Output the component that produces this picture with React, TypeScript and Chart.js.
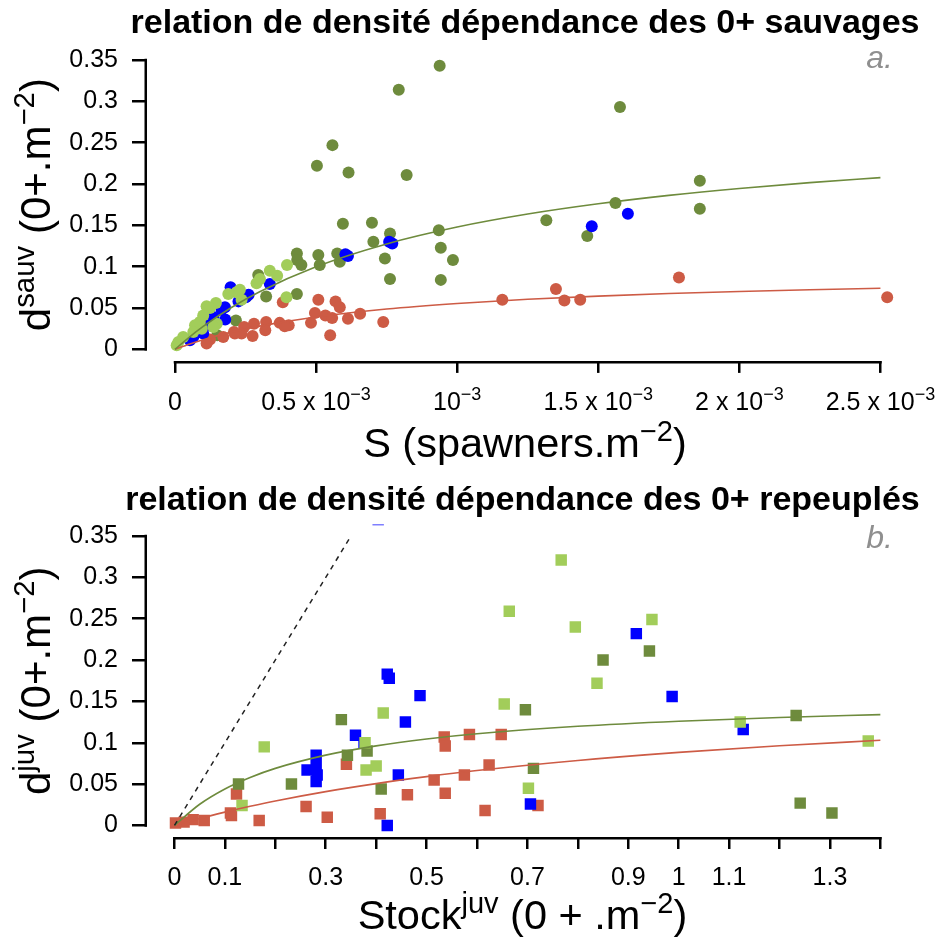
import React, { useEffect, useRef } from 'react';
import { Chart, registerables } from 'chart.js';

Chart.register(...registerables);

const FONT = "'Liberation Sans', Arial, Helvetica, sans-serif";
const C_DARK = '#6E8B3D';
const C_LIGHT = '#A2CD5A';
const C_BLUE = '#0000FF';
const C_RED = '#CD5B45';

// ---------- Panel a : wild 0+ (S in units of 1e-3 spawners.m-2) ----------
const aDarkX = [0.938, 0.793, 0.558, 0.503, 0.615, 0.821, 0.595, 0.698, 0.762, 0.935, 0.703, 1.316, 0.942, 0.985, 0.744, 0.762, 0.942, 0.432, 0.433, 0.448, 0.508, 0.513, 0.575, 0.584, 0.295, 0.432, 0.323, 0.216, 0.254, 0.150, 1.577, 1.860, 1.860, 1.561, 1.461];
const aDarkY = [0.343, 0.314, 0.247, 0.222, 0.214, 0.211, 0.152, 0.153, 0.140, 0.144, 0.130, 0.156, 0.123, 0.108, 0.110, 0.085, 0.084, 0.116, 0.108, 0.102, 0.114, 0.102, 0.116, 0.106, 0.090, 0.067, 0.064, 0.035, 0.064, 0.017, 0.293, 0.204, 0.170, 0.177, 0.137];

const aBlueX = [0.770, 0.759, 0.613, 0.604, 0.336, 0.261, 0.251, 0.230, 0.197, 0.225, 0.177, 0.165, 0.178, 0.136, 0.112, 0.100, 0.065, 0.053, 1.477, 1.605];
const aBlueY = [0.128, 0.130, 0.113, 0.115, 0.079, 0.066, 0.063, 0.062, 0.075, 0.058, 0.051, 0.048, 0.036, 0.039, 0.029, 0.019, 0.015, 0.011, 0.149, 0.164];

const aLightX = [0.397, 0.336, 0.362, 0.301, 0.289, 0.395, 0.218, 0.189, 0.236, 0.145, 0.112, 0.100, 0.148, 0.136, 0.095, 0.071, 0.065, 0.029, 0.012, 0.006, 0.124, 0.088, 0.230];
const aLightY = [0.102, 0.095, 0.089, 0.085, 0.080, 0.063, 0.069, 0.067, 0.060, 0.056, 0.052, 0.041, 0.031, 0.027, 0.025, 0.029, 0.021, 0.015, 0.009, 0.005, 0.050, 0.033, 0.072];

const aRedX = [0.508, 0.569, 0.584, 0.382, 0.496, 0.533, 0.557, 0.613, 0.656, 0.738, 0.482, 0.550, 0.371, 0.403, 0.389, 0.323, 0.320, 0.280, 0.275, 0.245, 0.236, 0.212, 0.209, 0.171, 0.124, 0.112, 1.350, 1.380, 1.436, 1.786, 2.524, 1.160];
const aRedY = [0.060, 0.058, 0.051, 0.057, 0.044, 0.041, 0.038, 0.037, 0.043, 0.033, 0.032, 0.017, 0.032, 0.029, 0.028, 0.033, 0.023, 0.031, 0.016, 0.027, 0.019, 0.019, 0.021, 0.015, 0.012, 0.007, 0.073, 0.059, 0.060, 0.087, 0.063, 0.060];

const aCurveX = [0, 0.05, 0.1, 0.2, 0.3, 0.5, 0.75, 1.0, 1.25, 1.5, 1.75, 2.0, 2.25, 2.5];
const aCurveGreenY = [0, 0.0146, 0.0278, 0.0506, 0.0697, 0.0999, 0.1275, 0.1479, 0.1636, 0.1760, 0.1862, 0.1946, 0.2016, 0.2077];
const aCurveRedY = [0, 0.0062, 0.0117, 0.0208, 0.0281, 0.0391, 0.0487, 0.0554, 0.0605, 0.0644, 0.0675, 0.0700, 0.0721, 0.0739];

const aXTicks = [0, 0.5, 1, 1.5, 2, 2.5];
const aXTickMant = ['0', '0.5 x 10', '10', '1.5 x 10', '2 x 10', '2.5 x 10'];
const aXTickExp = ['', '\u22123', '\u22123', '\u22123', '\u22123', '\u22123'];

// ---------- Panel b : stocked 0+ ----------
const bLightX = [0.767, 0.664, 0.795, 0.947, 0.838, 0.654, 0.414, 0.178, 0.378, 0.400, 0.380, 0.134, 0.702, 1.122, 1.376];
const bLightY = [0.321, 0.259, 0.240, 0.249, 0.172, 0.147, 0.136, 0.095, 0.100, 0.072, 0.067, 0.024, 0.045, 0.125, 0.102];

const bDarkX = [0.942, 0.850, 0.696, 0.331, 1.233, 0.343, 0.382, 0.127, 0.232, 0.410, 0.712, 1.241, 1.304];
const bDarkY = [0.211, 0.200, 0.140, 0.128, 0.133, 0.085, 0.090, 0.050, 0.050, 0.044, 0.069, 0.027, 0.015];

const bBlueX = [0.404, 0.422, 0.426, 0.487, 0.458, 0.916, 0.987, 1.128, 0.359, 0.376, 0.281, 0.263, 0.281, 0.283, 0.281, 0.444, 0.422, 0.706];
const bBlueY = [0.370, 0.183, 0.178, 0.157, 0.125, 0.232, 0.156, 0.116, 0.109, 0.100, 0.085, 0.067, 0.071, 0.061, 0.053, 0.061, 0.000, 0.026];

const bRedX = [0.535, 0.537, 0.585, 0.648, 0.341, 0.624, 0.575, 0.515, 0.537, 0.462, 0.616, 0.721, 0.408, 0.303, 0.261, 0.123, 0.111, 0.113, 0.168, 0.059, 0.037, 0.019, 0.002];
const bRedY = [0.107, 0.096, 0.110, 0.110, 0.074, 0.073, 0.061, 0.055, 0.039, 0.037, 0.018, 0.024, 0.014, 0.010, 0.023, 0.038, 0.015, 0.012, 0.006, 0.006, 0.007, 0.004, 0.003];

const bCurveX = [0, 0.05, 0.1, 0.15, 0.2, 0.3, 0.4, 0.5, 0.6, 0.8, 1.0, 1.2, 1.4];
const bCurveGreenY = [0, 0.0256, 0.0441, 0.0580, 0.0690, 0.0850, 0.0962, 0.1045, 0.1108, 0.1199, 0.1261, 0.1306, 0.1340];
const bCurveRedY = [0, 0.0085, 0.0161, 0.0231, 0.0296, 0.0409, 0.0506, 0.0590, 0.0664, 0.0786, 0.0884, 0.0963, 0.1030];

const bOneToOneX = [0, 0.35];
const bOneToOneY = [0, 0.35];

const bXTicks = [0, 0.1, 0.2, 0.3, 0.4, 0.5, 0.6, 0.7, 0.8, 0.9, 1.0, 1.1, 1.2, 1.3, 1.4];
const bXTickLabels = ['0', '0.1', '', '0.3', '', '0.5', '', '0.7', '', '0.9', '1', '1.1', '', '1.3', ''];

const yTicks = [0, 0.05, 0.1, 0.15, 0.2, 0.25, 0.3, 0.35];
const yTickLabels = ['0', '0.05', '0.1', '0.15', '0.2', '0.25', '0.3', '0.35'];

const W = 937;
const H = 471;

type Seg = [string, number];

function drawRich(ctx: CanvasRenderingContext2D, segs: Seg[], x: number, y: number, size: number, weight: string, align: string, supScale = 0.7, supRaise = 0.4) {
  const parts = segs.map(([t, lvl]) => {
    const fs = lvl ? size * supScale : size;
    ctx.font = `${weight} ${fs}px ${FONT}`;
    return { t, fs, w: ctx.measureText(t).width, dy: lvl ? -size * supRaise : 0 };
  });
  const total = parts.reduce((s, p) => s + p.w, 0);
  let cx = align === 'center' ? x - total / 2 : align === 'right' ? x - total : x;
  ctx.textAlign = 'left';
  ctx.textBaseline = 'alphabetic';
  for (const p of parts) {
    ctx.font = `${weight} ${p.fs}px ${FONT}`;
    ctx.fillText(p.t, cx, y + p.dy);
    cx += p.w;
  }
}

const pts = (xs: number[], ys: number[]) => xs.map((x, i) => ({ x, y: ys[i] }));

const rPlot = {
  id: 'rPlot',
  afterDraw(chart: any, _args: any, o: any) {
    const { ctx, chartArea: ca } = chart;
    const xs = chart.scales.x;
    const ys = chart.scales.y;
    ctx.save();
    ctx.strokeStyle = '#000';
    ctx.lineWidth = 2.5;
    ctx.lineCap = 'butt';
    const xt = o.xTicks;
    const x0 = xs.getPixelForValue(xt[0]);
    const x1 = xs.getPixelForValue(xt[xt.length - 1]);
    ctx.beginPath();
    ctx.moveTo(x0 - 1.25, ca.bottom + 1.25);
    ctx.lineTo(x1 + 1.25, ca.bottom + 1.25);
    ctx.stroke();
    const y0 = ys.getPixelForValue(yTicks[0]);
    const y1 = ys.getPixelForValue(yTicks[yTicks.length - 1]);
    ctx.beginPath();
    ctx.moveTo(ca.left - 1.25, y0 + 1.25);
    ctx.lineTo(ca.left - 1.25, y1 - 1.25);
    ctx.stroke();

    ctx.fillStyle = '#000';
    // x tick labels
    xt.forEach((v: number, i: number) => {
      if (!o.xMant[i]) return;
      const segs: Seg[] = [[o.xMant[i], 0]];
      if (o.xExp && o.xExp[i]) segs.push([o.xExp[i], 1]);
      drawRich(ctx, segs, xs.getPixelForValue(v), o.xLabelBase, 25, 'normal', 'center', 0.72, 0.42);
    });
    const cx = (ca.left + ca.right) / 2;
    // main title
    drawRich(ctx, [[o.title, 0]], cx, o.titleBase, 34, 'bold', 'center');
    // x axis title
    drawRich(ctx, o.xTitle, cx, o.xTitleBase, 41.5, 'normal', 'center', 0.7, 0.38);
    // y axis title (rotated)
    ctx.save();
    ctx.translate(50, (ca.top + ca.bottom) / 2);
    ctx.rotate(-Math.PI / 2);
    drawRich(ctx, o.yTitle, 0, 0, 42, 'normal', 'center', 0.7, 0.38);
    ctx.restore();
    // panel letter
    ctx.fillStyle = '#8F8F8F';
    ctx.font = `italic 32px ${FONT}`;
    ctx.textAlign = 'right';
    ctx.textBaseline = 'alphabetic';
    ctx.fillText(o.letter, 893, o.letterBase);
    ctx.restore();
  },
};

function scatterSet(xs: number[], ys: number[], color: string, order: number, style: string, r: number) {
  return {
    type: 'scatter',
    data: pts(xs, ys),
    pointStyle: style,
    pointRadius: r,
    pointBackgroundColor: color,
    pointBorderColor: color,
    pointBorderWidth: 0,
    showLine: false,
    order,
  };
}

function lineSet(xs: number[], ys: number[], color: string, width: number, dash: number[] = []) {
  return {
    type: 'line',
    data: pts(xs, ys),
    borderColor: color,
    borderWidth: width,
    borderDash: dash,
    pointRadius: 0,
    fill: false,
    cubicInterpolationMode: 'monotone',
    order: 0,
  };
}

function buildConfig(panel: 'a' | 'b'): any {
  const isA = panel === 'a';
  const datasets = isA
    ? [
        lineSet(aCurveX, aCurveGreenY, C_DARK, 1.6),
        lineSet(aCurveX, aCurveRedY, C_RED, 1.6),
        scatterSet(aLightX, aLightY, C_LIGHT, 1, 'circle', 6),
        scatterSet(aBlueX, aBlueY, C_BLUE, 2, 'circle', 6),
        scatterSet(aRedX, aRedY, C_RED, 3, 'circle', 6),
        scatterSet(aDarkX, aDarkY, C_DARK, 4, 'circle', 6),
      ]
    : [
        lineSet(bOneToOneX, bOneToOneY, '#222222', 1.5, [5, 5]),
        lineSet(bCurveX, bCurveGreenY, C_DARK, 1.6),
        lineSet(bCurveX, bCurveRedY, C_RED, 1.6),
        scatterSet(bLightX, bLightY, C_LIGHT, 1, 'rect', 8.1),
        scatterSet(bDarkX, bDarkY, C_DARK, 2, 'rect', 8.1),
        scatterSet(bBlueX, bBlueY, C_BLUE, 3, 'rect', 8.1),
        scatterSet(bRedX, bRedY, C_RED, 4, 'rect', 8.1),
      ];
  const areaTop = isA ? 48.4 : 53.5;
  const areaBottom = isA ? 360.9 : 366;
  const xTicks = isA ? aXTicks : bXTicks;
  return {
    type: 'scatter',
    data: { datasets },
    plugins: [rPlot],
    options: {
      responsive: false,
      animation: false,
      devicePixelRatio: 1,
      events: [],
      layout: { padding: { top: areaTop, right: isA ? 34 : 39, bottom: 0, left: 0 } },
      plugins: {
        legend: { display: false },
        tooltip: { enabled: false },
        title: { display: false },
        rPlot: isA
          ? {
              xTicks: aXTicks,
              xMant: aXTickMant,
              xExp: aXTickExp,
              xLabelBase: 410,
              title: 'relation de densit\u00e9 d\u00e9pendance des 0+ sauvages',
              titleBase: 33,
              xTitle: [['S (spawners.m', 0], ['\u22122', 1], [')', 0]],
              xTitleBase: 457,
              yTitle: [['d', 0], ['sauv', 1], [' (0+.m', 0], ['\u22122', 1], [')', 0]],
              letter: 'a.',
              letterBase: 68,
            }
          : {
              xTicks: bXTicks,
              xMant: bXTickLabels,
              xExp: null,
              xLabelBase: 414,
              title: 'relation de densit\u00e9 d\u00e9pendance des 0+ repeupl\u00e9s',
              titleBase: 39,
              xTitle: [['Stock', 0], ['juv', 1], [' (0 + .m', 0], ['\u22122', 1], [')', 0]],
              xTitleBase: 458,
              yTitle: [['d', 0], ['juv', 1], [' (0+.m', 0], ['\u22122', 1], [')', 0]],
              letter: 'b.',
              letterBase: 77,
            },
      },
      scales: {
        x: {
          type: 'linear',
          position: 'bottom',
          min: isA ? -0.0992 : -0.0545,
          max: isA ? 2.58 : 1.435,
          afterFit: (s: any) => {
            s.height = H - areaBottom;
          },
          afterBuildTicks: (s: any) => {
            s.ticks = xTicks.map((v) => ({ value: v }));
          },
          ticks: { display: false, autoSkip: false },
          grid: {
            display: true,
            drawOnChartArea: false,
            drawTicks: true,
            tickLength: 12,
            color: '#000',
            lineWidth: 2.5,
          },
          border: { display: false },
        },
        y: {
          type: 'linear',
          position: 'left',
          min: -0.014,
          max: 0.364,
          afterFit: (s: any) => {
            s.width = 147;
          },
          afterBuildTicks: (s: any) => {
            s.ticks = yTicks.map((v) => ({ value: v }));
          },
          ticks: {
            display: true,
            autoSkip: false,
            padding: 14,
            color: '#000',
            font: { family: FONT, size: 25 },
            callback: (_v: any, i: number) => yTickLabels[i],
          },
          grid: {
            display: true,
            drawOnChartArea: false,
            drawTicks: true,
            tickLength: 15,
            color: '#000',
            lineWidth: 2.5,
          },
          border: { display: false },
        },
      },
    },
  };
}

function Panel({ panel, top }: { panel: 'a' | 'b'; top: number }) {
  const ref = useRef<HTMLCanvasElement>(null);
  useEffect(() => {
    const chart = new Chart(ref.current as HTMLCanvasElement, buildConfig(panel));
    return () => chart.destroy();
  }, [panel]);
  return (
    <canvas
      ref={ref}
      width={W}
      height={H}
      style={{ position: 'absolute', left: 0, top, width: W, height: H, display: 'block' }}
    />
  );
}

export default function App() {
  return (
    <div style={{ position: 'absolute', left: 0, top: 0, width: 937, height: 942, background: '#fff', overflow: 'hidden' }}>
      <Panel panel="a" top={0} />
      <Panel panel="b" top={471} />
    </div>
  );
}
